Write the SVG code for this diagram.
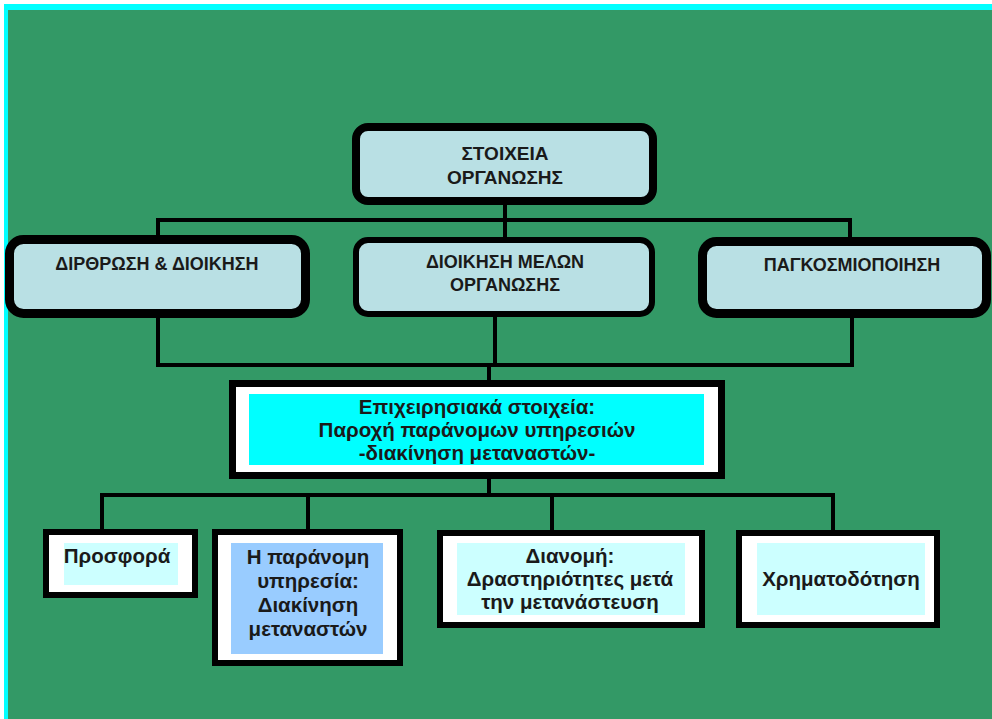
<svg xmlns="http://www.w3.org/2000/svg" width="992" height="719" viewBox="0 0 992 719">
<style>
.t{font-family:"Liberation Sans",Arial,sans-serif;font-weight:bold;fill:#1a1a1a;text-anchor:middle}
.h1{font-size:19px}
.h2{font-size:18px}
.b{font-size:20.5px}
.top{fill:#b9e0e4;stroke:#000}
.box{fill:#fff;stroke:#000;stroke-width:6}
.c{fill:none;stroke:#000;stroke-width:4}
</style>
<rect x="0" y="0" width="992" height="719" fill="#fff"/>
<rect x="4" y="4" width="988" height="715" fill="#00ffff"/>
<rect x="8" y="10" width="984" height="709" fill="#339966"/>
<g id="connectors">
<polyline class="c" points="158,239 158,220 850,220 850,239"/>
<line class="c" x1="505" y1="204" x2="505" y2="240"/>
<polyline class="c" points="158,316 158,365 852,365 852,316"/>
<line class="c" x1="495" y1="316" x2="495" y2="367"/>
<line class="c" x1="489" y1="363" x2="489" y2="382"/>
<line class="c" x1="489" y1="477" x2="489" y2="497"/>
<polyline class="c" points="102,531 102,495 833,495 833,531"/>
<line class="c" x1="308" y1="495" x2="308" y2="531"/>
<line class="c" x1="552" y1="495" x2="552" y2="531"/>
</g>
<g id="n-top">
<rect class="top" x="356" y="127" width="297" height="74" rx="12" stroke-width="8"/>
<text class="t h1" x="505" y="160">ΣΤΟΙΧΕΙΑ</text>
<text class="t h1" x="505" y="184">ΟΡΓΑΝΩΣΗΣ</text>
</g>
<g id="n-left">
<rect class="top" x="9.5" y="239.5" width="296" height="74" rx="14" stroke-width="9"/>
<text class="t h2" x="157" y="270">ΔΙΡΘΡΩΣΗ &amp; ΔΙΟΙΚΗΣΗ</text>
</g>
<g id="n-mid">
<rect class="top" x="356" y="240" width="296" height="74" rx="12" stroke-width="6"/>
<text class="t h2" x="505" y="268">ΔΙΟΙΚΗΣΗ ΜΕΛΩΝ</text>
<text class="t h2" x="505" y="291">ΟΡΓΑΝΩΣΗΣ</text>
</g>
<g id="n-right">
<rect class="top" x="702.5" y="241.5" width="284" height="72" rx="14" stroke-width="9"/>
<text class="t h2" x="852" y="271">ΠΑΓΚΟΣΜΙΟΠΟΙΗΣΗ</text>
</g>
<g id="n-op">
<rect x="232.5" y="383.5" width="489" height="92" fill="#fff" stroke="#000" stroke-width="7"/>
<rect x="249" y="394" width="455" height="71" fill="#00ffff"/>
<text class="t b" x="477" y="414">Επιχειρησιακά στοιχεία:</text>
<text class="t b" x="477" y="437">Παροχή παράνομων υπηρεσιών</text>
<text class="t b" x="477" y="460">-διακίνηση μεταναστών-</text>
</g>
<g id="n-supply">
<rect class="box" x="46" y="532" width="149" height="63"/>
<rect x="64" y="543" width="114" height="42" fill="#ccffff"/>
<text class="t b" x="117" y="563">Προσφορά</text>
</g>
<g id="n-service">
<rect class="box" x="215" y="532" width="185" height="131"/>
<rect x="231" y="543" width="152" height="111" fill="#99ccff"/>
<text class="t b" x="308" y="564">Η παράνομη</text>
<text class="t b" x="308" y="588">υπηρεσία:</text>
<text class="t b" x="308" y="612">Διακίνηση</text>
<text class="t b" x="308" y="636">μεταναστών</text>
</g>
<g id="n-distribution">
<rect class="box" x="440" y="533" width="262" height="92"/>
<rect x="457" y="543" width="228" height="72" fill="#ccffff"/>
<text class="t b" x="570" y="563">Διανομή:</text>
<text class="t b" x="570" y="586">Δραστηριότητες μετά</text>
<text class="t b" x="570" y="609">την μετανάστευση</text>
</g>
<g id="n-finance">
<rect class="box" x="739" y="533" width="198" height="92"/>
<rect x="757" y="543" width="168" height="72" fill="#ccffff"/>
<text class="t b" x="841" y="586">Χρηματοδότηση</text>
</g>
</svg>
